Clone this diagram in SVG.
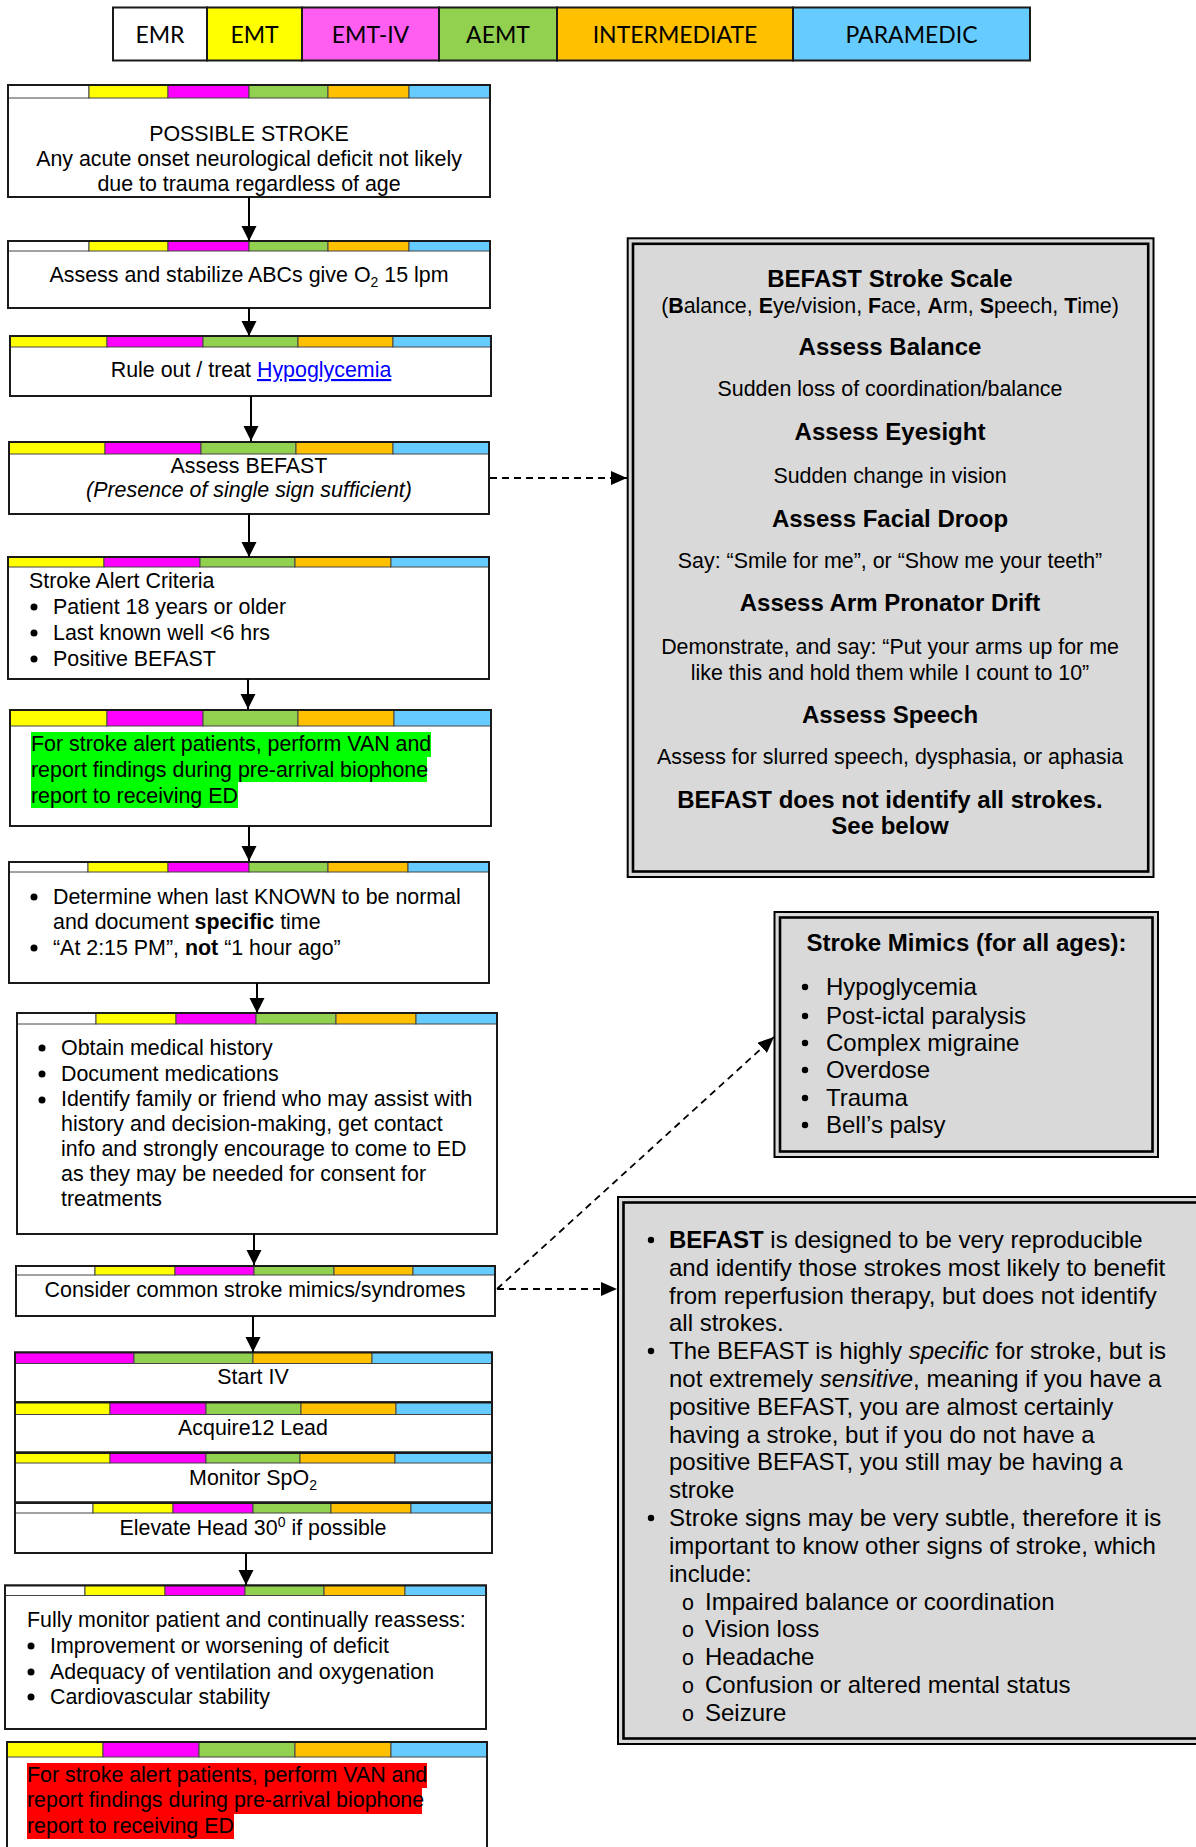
<svg xmlns="http://www.w3.org/2000/svg" width="1196" height="1847" viewBox="0 0 1196 1847">
<defs>
<style>
.bx{fill:#fff;stroke:#1a1a1a;stroke-width:2}
.ol{fill:none;stroke:#1a1a1a;stroke-width:2}
.w{fill:#fff;stroke:#444;stroke-width:1}
.y{fill:#ffff00;stroke:#444;stroke-width:1}
.m{fill:#ff00ff;stroke:#444;stroke-width:1}
.g{fill:#92d050;stroke:#444;stroke-width:1}
.o{fill:#ffc000;stroke:#444;stroke-width:1}
.b{fill:#66ccff;stroke:#444;stroke-width:1}
.lg{stroke:#1a1a1a;stroke-width:2}
.lt{font-family:Lato,"Open Sans",sans-serif;font-size:23px;fill:#000;text-anchor:middle}
.t{font-family:"Liberation Sans",Arial,sans-serif;font-size:21.4px;fill:#000}
.tb{font-family:"Liberation Sans",Arial,sans-serif;font-size:24px;font-weight:bold;fill:#000}
.t24{font-family:"Liberation Sans",Arial,sans-serif;font-size:24px;fill:#000}
.c{text-anchor:middle}
.bold{font-weight:bold}
.it{font-style:italic}
.gray{fill:#d9d9d9;stroke:#000;stroke-width:2}
.inner{fill:none;stroke:#000;stroke-width:2.6}
.dot{fill:#000}
.arr{stroke:#000;stroke-width:2;fill:none;marker-end:url(#ah)}
.dash{stroke:#000;stroke-width:1.8;stroke-dasharray:7 5;fill:none;marker-end:url(#ah2)}
</style>
<marker id="ah" markerUnits="userSpaceOnUse" markerWidth="16" markerHeight="16" refX="15" refY="8" orient="auto"><path d="M0,0.5 L15,8 L0,15.5 z" fill="#000"/></marker>
<marker id="ah2" markerUnits="userSpaceOnUse" markerWidth="17" markerHeight="14" refX="16" refY="7" orient="auto"><path d="M0,0 L16,7 L0,14 z" fill="#000"/></marker>
</defs>
<rect width="1196" height="1847" fill="#fff"/>

<g id="legend">
<rect x="113" y="7.5" width="94" height="53" fill="#fff" class="lg"/>
<rect x="207" y="7.5" width="95" height="53" fill="#ffff00" class="lg"/>
<rect x="302" y="7.5" width="137" height="53" fill="#ff5ef0" class="lg"/>
<rect x="439" y="7.5" width="118" height="53" fill="#92d050" class="lg"/>
<rect x="557" y="7.5" width="236" height="53" fill="#ffc000" class="lg"/>
<rect x="793" y="7.5" width="237" height="53" fill="#66ccff" class="lg"/>
<text class="lt" x="160" y="43">EMR</text>
<text class="lt" x="254.5" y="43">EMT</text>
<text class="lt" x="370.5" y="43">EMT-IV</text>
<text class="lt" x="498" y="43">AEMT</text>
<text class="lt" x="675" y="43">INTERMEDIATE</text>
<text class="lt" x="911.5" y="43">PARAMEDIC</text>
</g>

<g id="possible-stroke">
<rect class="bx" x="8" y="85" width="482" height="112"/>
<rect class="w" x="8" y="85" width="81" height="13"/><rect class="y" x="89" y="85" width="79" height="13"/><rect class="m" x="168" y="85" width="81" height="13"/><rect class="g" x="249" y="85" width="79" height="13"/><rect class="o" x="328" y="85" width="81" height="13"/><rect class="b" x="409" y="85" width="81" height="13"/>
<rect class="ol" x="8" y="85" width="482" height="112"/>
<text class="t c" x="249" y="140.5">POSSIBLE STROKE</text>
<text class="t c" x="249" y="165.5">Any acute onset neurological deficit not likely</text>
<text class="t c" x="249" y="190.5">due to trauma regardless of age</text>
</g>

<g id="assess-abc">
<rect class="bx" x="8" y="241" width="482" height="67"/>
<rect class="w" x="8" y="241" width="81" height="10"/><rect class="y" x="89" y="241" width="79" height="10"/><rect class="m" x="168" y="241" width="81" height="10"/><rect class="g" x="249" y="241" width="79" height="10"/><rect class="o" x="328" y="241" width="81" height="10"/><rect class="b" x="409" y="241" width="81" height="10"/>
<rect class="ol" x="8" y="241" width="482" height="67"/>
<text class="t c" x="249" y="282">Assess and stabilize ABCs  give O<tspan font-size="14" dy="5">2</tspan><tspan dy="-5"> 15 lpm</tspan></text>
</g>

<g id="hypoglycemia">
<rect class="bx" x="10" y="336" width="481" height="60"/>
<rect class="y" x="10" y="336" width="97" height="11"/><rect class="m" x="107" y="336" width="96" height="11"/><rect class="g" x="203" y="336" width="95" height="11"/><rect class="o" x="298" y="336" width="95" height="11"/><rect class="b" x="393" y="336" width="98" height="11"/>
<rect class="ol" x="10" y="336" width="481" height="60"/>
<text class="t c" x="251" y="377">Rule out / treat <tspan fill="#0000ff" text-decoration="underline">Hypoglycemia</tspan></text>
</g>

<g id="assess-befast">
<rect class="bx" x="9" y="442" width="480" height="72"/>
<rect class="y" x="9" y="442" width="96" height="12"/><rect class="m" x="105" y="442" width="96" height="12"/><rect class="g" x="201" y="442" width="95" height="12"/><rect class="o" x="296" y="442" width="97" height="12"/><rect class="b" x="393" y="442" width="96" height="12"/>
<rect class="ol" x="9" y="442" width="480" height="72"/>
<text class="t c" x="249" y="473">Assess BEFAST</text>
<text class="t c it" x="249" y="497">(Presence of single sign sufficient)</text>
</g>

<g id="stroke-alert-criteria">
<rect class="bx" x="8" y="557" width="481" height="122"/>
<rect class="y" x="8" y="557" width="96" height="10"/><rect class="m" x="104" y="557" width="96" height="10"/><rect class="g" x="200" y="557" width="95" height="10"/><rect class="o" x="295" y="557" width="96" height="10"/><rect class="b" x="391" y="557" width="98" height="10"/>
<rect class="ol" x="8" y="557" width="481" height="122"/>
<text class="t" x="29" y="588">Stroke Alert Criteria</text>
<circle class="dot" cx="34" cy="607" r="3.5"/><circle class="dot" cx="34" cy="633" r="3.5"/><circle class="dot" cx="34" cy="659" r="3.5"/>
<text class="t" x="53" y="614">Patient 18 years or older</text>
<text class="t" x="53" y="640">Last known well &lt;6 hrs</text>
<text class="t" x="53" y="666">Positive BEFAST</text>
</g>

<g id="van-green">
<rect class="bx" x="10" y="710" width="481" height="116"/>
<rect class="y" x="10" y="710" width="97" height="16"/><rect class="m" x="107" y="710" width="96" height="16"/><rect class="g" x="203" y="710" width="95" height="16"/><rect class="o" x="298" y="710" width="96" height="16"/><rect class="b" x="394" y="710" width="97" height="16"/>
<rect class="ol" x="10" y="710" width="481" height="116"/>
<rect x="31" y="732" width="400" height="25" fill="#00ff00"/>
<rect x="31" y="757" width="396" height="25" fill="#00ff00"/>
<rect x="31" y="782" width="207" height="26" fill="#00ff00"/>
<text class="t" x="31" y="751">For stroke alert patients, perform VAN and</text>
<text class="t" x="31" y="777">report findings during pre-arrival biophone</text>
<text class="t" x="31" y="803">report to receiving ED</text>
</g>

<g id="last-known">
<rect class="bx" x="9" y="862" width="480" height="121"/>
<rect class="w" x="9" y="862" width="79" height="10"/><rect class="y" x="88" y="862" width="80" height="10"/><rect class="m" x="168" y="862" width="81" height="10"/><rect class="g" x="249" y="862" width="79" height="10"/><rect class="o" x="328" y="862" width="80" height="10"/><rect class="b" x="408" y="862" width="81" height="10"/>
<rect class="ol" x="9" y="862" width="480" height="121"/>
<circle class="dot" cx="34" cy="897" r="3.5"/><circle class="dot" cx="34" cy="948" r="3.5"/>
<text class="t" x="53" y="904">Determine when last KNOWN to be normal</text>
<text class="t" x="53" y="929">and document <tspan class="bold">specific</tspan> time</text>
<text class="t" x="53" y="955">“At 2:15 PM”, <tspan class="bold">not</tspan> “1 hour ago”</text>
</g>

<g id="history">
<rect class="bx" x="17" y="1013" width="480" height="221"/>
<rect class="w" x="17" y="1013" width="79" height="11"/><rect class="y" x="96" y="1013" width="80" height="11"/><rect class="m" x="176" y="1013" width="80" height="11"/><rect class="g" x="256" y="1013" width="80" height="11"/><rect class="o" x="336" y="1013" width="80" height="11"/><rect class="b" x="416" y="1013" width="81" height="11"/>
<rect class="ol" x="17" y="1013" width="480" height="221"/>
<circle class="dot" cx="42" cy="1048" r="3.5"/><circle class="dot" cx="42" cy="1074" r="3.5"/><circle class="dot" cx="42" cy="1100" r="3.5"/>
<text class="t" x="61" y="1055">Obtain medical history</text>
<text class="t" x="61" y="1080.5">Document medications</text>
<text class="t" x="61" y="1106">Identify family or friend who may assist with</text>
<text class="t" x="61" y="1131">history and decision-making, get contact</text>
<text class="t" x="61" y="1156">info and strongly encourage to come to ED</text>
<text class="t" x="61" y="1181">as they may be needed for consent for</text>
<text class="t" x="61" y="1206">treatments</text>
</g>

<g id="mimics-consider">
<rect class="bx" x="16" y="1266" width="479" height="50"/>
<rect class="w" x="16" y="1266" width="79" height="9"/><rect class="y" x="95" y="1266" width="80" height="9"/><rect class="m" x="175" y="1266" width="79" height="9"/><rect class="g" x="254" y="1266" width="80" height="9"/><rect class="o" x="334" y="1266" width="79" height="9"/><rect class="b" x="413" y="1266" width="82" height="9"/>
<rect class="ol" x="16" y="1266" width="479" height="50"/>
<text class="t c" x="255" y="1297">Consider common stroke mimics/syndromes</text>
</g>

<g id="start-iv">
<rect class="bx" x="15" y="1352.5" width="477" height="50"/>
<rect class="m" x="15" y="1352.5" width="119" height="11"/><rect class="g" x="134" y="1352.5" width="119" height="11"/><rect class="o" x="253" y="1352.5" width="119" height="11"/><rect class="b" x="372" y="1352.5" width="120" height="11"/>
<rect class="ol" x="15" y="1352.5" width="477" height="50"/>
<text class="t c" x="253" y="1384">Start IV</text>
</g>

<g id="acquire-12-lead">
<rect class="bx" x="15" y="1402.5" width="477" height="50"/>
<rect class="y" x="15" y="1402.5" width="95" height="12"/><rect class="m" x="110" y="1402.5" width="96" height="12"/><rect class="g" x="206" y="1402.5" width="95" height="12"/><rect class="o" x="301" y="1402.5" width="95" height="12"/><rect class="b" x="396" y="1402.5" width="96" height="12"/>
<rect class="ol" x="15" y="1402.5" width="477" height="50"/>
<text class="t c" x="253" y="1435">Acquire12 Lead</text>
</g>

<g id="monitor-spo2">
<rect class="bx" x="15" y="1453" width="477" height="49.5"/>
<rect class="y" x="15" y="1453" width="95" height="10"/><rect class="m" x="110" y="1453" width="96" height="10"/><rect class="g" x="206" y="1453" width="94" height="10"/><rect class="o" x="300" y="1453" width="95" height="10"/><rect class="b" x="395" y="1453" width="97" height="10"/>
<rect class="ol" x="15" y="1453" width="477" height="49.5"/>
<text class="t c" x="253" y="1484.5">Monitor SpO<tspan font-size="14" dy="5">2</tspan></text>
</g>

<g id="elevate-head">
<rect class="bx" x="15" y="1503" width="477" height="50"/>
<rect class="w" x="15" y="1503" width="78" height="10"/><rect class="y" x="93" y="1503" width="80" height="10"/><rect class="m" x="173" y="1503" width="80" height="10"/><rect class="g" x="253" y="1503" width="78" height="10"/><rect class="o" x="331" y="1503" width="80" height="10"/><rect class="b" x="411" y="1503" width="81" height="10"/>
<rect class="ol" x="15" y="1503" width="477" height="50"/>
<text class="t c" x="253" y="1535">Elevate Head 30<tspan font-size="14" dy="-8">0</tspan><tspan dy="8"> if possible</tspan></text>
</g>

<g id="reassess">
<rect class="bx" x="5" y="1585.5" width="481" height="143.5"/>
<rect class="w" x="5" y="1585.5" width="80" height="10"/><rect class="y" x="85" y="1585.5" width="80" height="10"/><rect class="m" x="165" y="1585.5" width="80" height="10"/><rect class="g" x="245" y="1585.5" width="79" height="10"/><rect class="o" x="324" y="1585.5" width="81" height="10"/><rect class="b" x="405" y="1585.5" width="81" height="10"/>
<rect class="ol" x="5" y="1585.5" width="481" height="143.5"/>
<text class="t" x="27" y="1627">Fully monitor patient and continually reassess:</text>
<circle class="dot" cx="31" cy="1646" r="3.5"/><circle class="dot" cx="31" cy="1672" r="3.5"/><circle class="dot" cx="31" cy="1697" r="3.5"/>
<text class="t" x="50" y="1653">Improvement or worsening of deficit</text>
<text class="t" x="50" y="1679">Adequacy of ventilation and oxygenation</text>
<text class="t" x="50" y="1704">Cardiovascular stability</text>
</g>

<g id="van-red">
<rect class="bx" x="7" y="1742" width="480" height="130"/>
<rect class="y" x="7" y="1742" width="96" height="15"/><rect class="m" x="103" y="1742" width="96" height="15"/><rect class="g" x="199" y="1742" width="96" height="15"/><rect class="o" x="295" y="1742" width="96" height="15"/><rect class="b" x="391" y="1742" width="96" height="15"/>
<rect class="ol" x="7" y="1742" width="480" height="130"/>
<rect x="27" y="1763" width="400" height="25" fill="#ff0000"/>
<rect x="27" y="1788" width="395" height="26" fill="#ff0000"/>
<rect x="27" y="1814" width="207" height="25" fill="#ff0000"/>
<text class="t" x="27" y="1782">For stroke alert patients, perform VAN and</text>
<text class="t" x="27" y="1807">report findings during pre-arrival biophone</text>
<text class="t" x="27" y="1833">report to receiving ED</text>
</g>

<g id="befast-scale">
<rect class="gray" x="627.7" y="238.3" width="525.8" height="638.7"/>
<rect class="inner" x="633" y="243.8" width="515.2" height="627.7"/>
<text class="tb c" x="890" y="287">BEFAST Stroke Scale</text>
<text class="t c" x="890" y="313">(<tspan class="bold">B</tspan>alance, <tspan class="bold">E</tspan>ye/vision, <tspan class="bold">F</tspan>ace, <tspan class="bold">A</tspan>rm, <tspan class="bold">S</tspan>peech, <tspan class="bold">T</tspan>ime)</text>
<text class="tb c" x="890" y="355">Assess Balance</text>
<text class="t c" x="890" y="396">Sudden loss of coordination/balance</text>
<text class="tb c" x="890" y="440">Assess Eyesight</text>
<text class="t c" x="890" y="483">Sudden change in vision</text>
<text class="tb c" x="890" y="527">Assess Facial Droop</text>
<text class="t c" x="890" y="568">Say: “Smile for me”, or “Show me your teeth”</text>
<text class="tb c" x="890" y="611">Assess Arm Pronator Drift</text>
<text class="t c" x="890" y="654">Demonstrate, and say: “Put your arms up for me</text>
<text class="t c" x="890" y="680">like this and hold them while I count to 10”</text>
<text class="tb c" x="890" y="723">Assess Speech</text>
<text class="t c" x="890" y="764">Assess for slurred speech, dysphasia, or aphasia</text>
<text class="tb c" x="890" y="808">BEFAST does not identify all strokes.</text>
<text class="tb c" x="890" y="834">See below</text>
</g>

<g id="stroke-mimics">
<rect class="gray" x="774.5" y="912" width="383.5" height="245"/>
<rect class="inner" x="780" y="917.5" width="372.5" height="234"/>
<text class="tb" x="806.5" y="951">Stroke Mimics (for all ages):</text>
<circle class="dot" cx="805" cy="987" r="3.2"/><circle class="dot" cx="805" cy="1016" r="3.2"/><circle class="dot" cx="805" cy="1043" r="3.2"/><circle class="dot" cx="805" cy="1070" r="3.2"/><circle class="dot" cx="805" cy="1098" r="3.2"/><circle class="dot" cx="805" cy="1125" r="3.2"/>
<text class="t24" x="826" y="995">Hypoglycemia</text>
<text class="t24" x="826" y="1024">Post-ictal paralysis</text>
<text class="t24" x="826" y="1051">Complex migraine</text>
<text class="t24" x="826" y="1078">Overdose</text>
<text class="t24" x="826" y="1106">Trauma</text>
<text class="t24" x="826" y="1133">Bell’s palsy</text>
</g>

<g id="befast-notes">
<rect class="gray" x="618" y="1197" width="600" height="547"/>
<rect class="inner" x="623.5" y="1202.5" width="589" height="536"/>
<circle class="dot" cx="651" cy="1240" r="3.2"/><circle class="dot" cx="651" cy="1351" r="3.2"/><circle class="dot" cx="651" cy="1518" r="3.2"/>
<text class="t24" x="669" y="1248"><tspan class="bold">BEFAST</tspan> is designed to be very reproducible</text>
<text class="t24" x="669" y="1276">and identify those strokes most likely to benefit</text>
<text class="t24" x="669" y="1304">from reperfusion therapy, but does not identify</text>
<text class="t24" x="669" y="1331">all strokes.</text>
<text class="t24" x="669" y="1359">The BEFAST is highly <tspan class="it">specific</tspan> for stroke, but is</text>
<text class="t24" x="669" y="1387">not extremely <tspan class="it">sensitive</tspan>, meaning if you have a</text>
<text class="t24" x="669" y="1415">positive BEFAST, you are almost certainly</text>
<text class="t24" x="669" y="1443">having a stroke, but if you do not have a</text>
<text class="t24" x="669" y="1470">positive BEFAST, you still may be having a</text>
<text class="t24" x="669" y="1498">stroke</text>
<text class="t24" x="669" y="1526">Stroke signs may be very subtle, therefore it is</text>
<text class="t24" x="669" y="1554">important to know other signs of stroke, which</text>
<text class="t24" x="669" y="1582">include:</text>
<text class="t c" x="688" y="1610" font-size="17">o</text>
<text class="t c" x="688" y="1637" font-size="17">o</text>
<text class="t c" x="688" y="1665" font-size="17">o</text>
<text class="t c" x="688" y="1693" font-size="17">o</text>
<text class="t c" x="688" y="1721" font-size="17">o</text>
<text class="t24" x="705" y="1610">Impaired balance or coordination</text>
<text class="t24" x="705" y="1637">Vision loss</text>
<text class="t24" x="705" y="1665">Headache</text>
<text class="t24" x="705" y="1693">Confusion or altered mental status</text>
<text class="t24" x="705" y="1721">Seizure</text>
</g>

<g id="connectors">
<line class="arr" x1="249" y1="197" x2="249" y2="241"/>
<line class="arr" x1="249" y1="308" x2="249" y2="336"/>
<line class="arr" x1="251" y1="396" x2="251" y2="441"/>
<line class="arr" x1="249" y1="514" x2="249" y2="557"/>
<line class="arr" x1="248" y1="679" x2="248" y2="709"/>
<line class="arr" x1="249" y1="826" x2="249" y2="861"/>
<line class="arr" x1="257" y1="983" x2="257" y2="1013"/>
<line class="arr" x1="254" y1="1234" x2="254" y2="1265"/>
<line class="arr" x1="253" y1="1316" x2="253" y2="1352"/>
<line class="arr" x1="246" y1="1553" x2="246" y2="1585"/>
<line class="dash" x1="490" y1="478" x2="627" y2="478"/>
<line class="dash" x1="497" y1="1289" x2="774" y2="1037"/>
<line class="dash" x1="497" y1="1289" x2="617" y2="1289"/>
</g>
</svg>
